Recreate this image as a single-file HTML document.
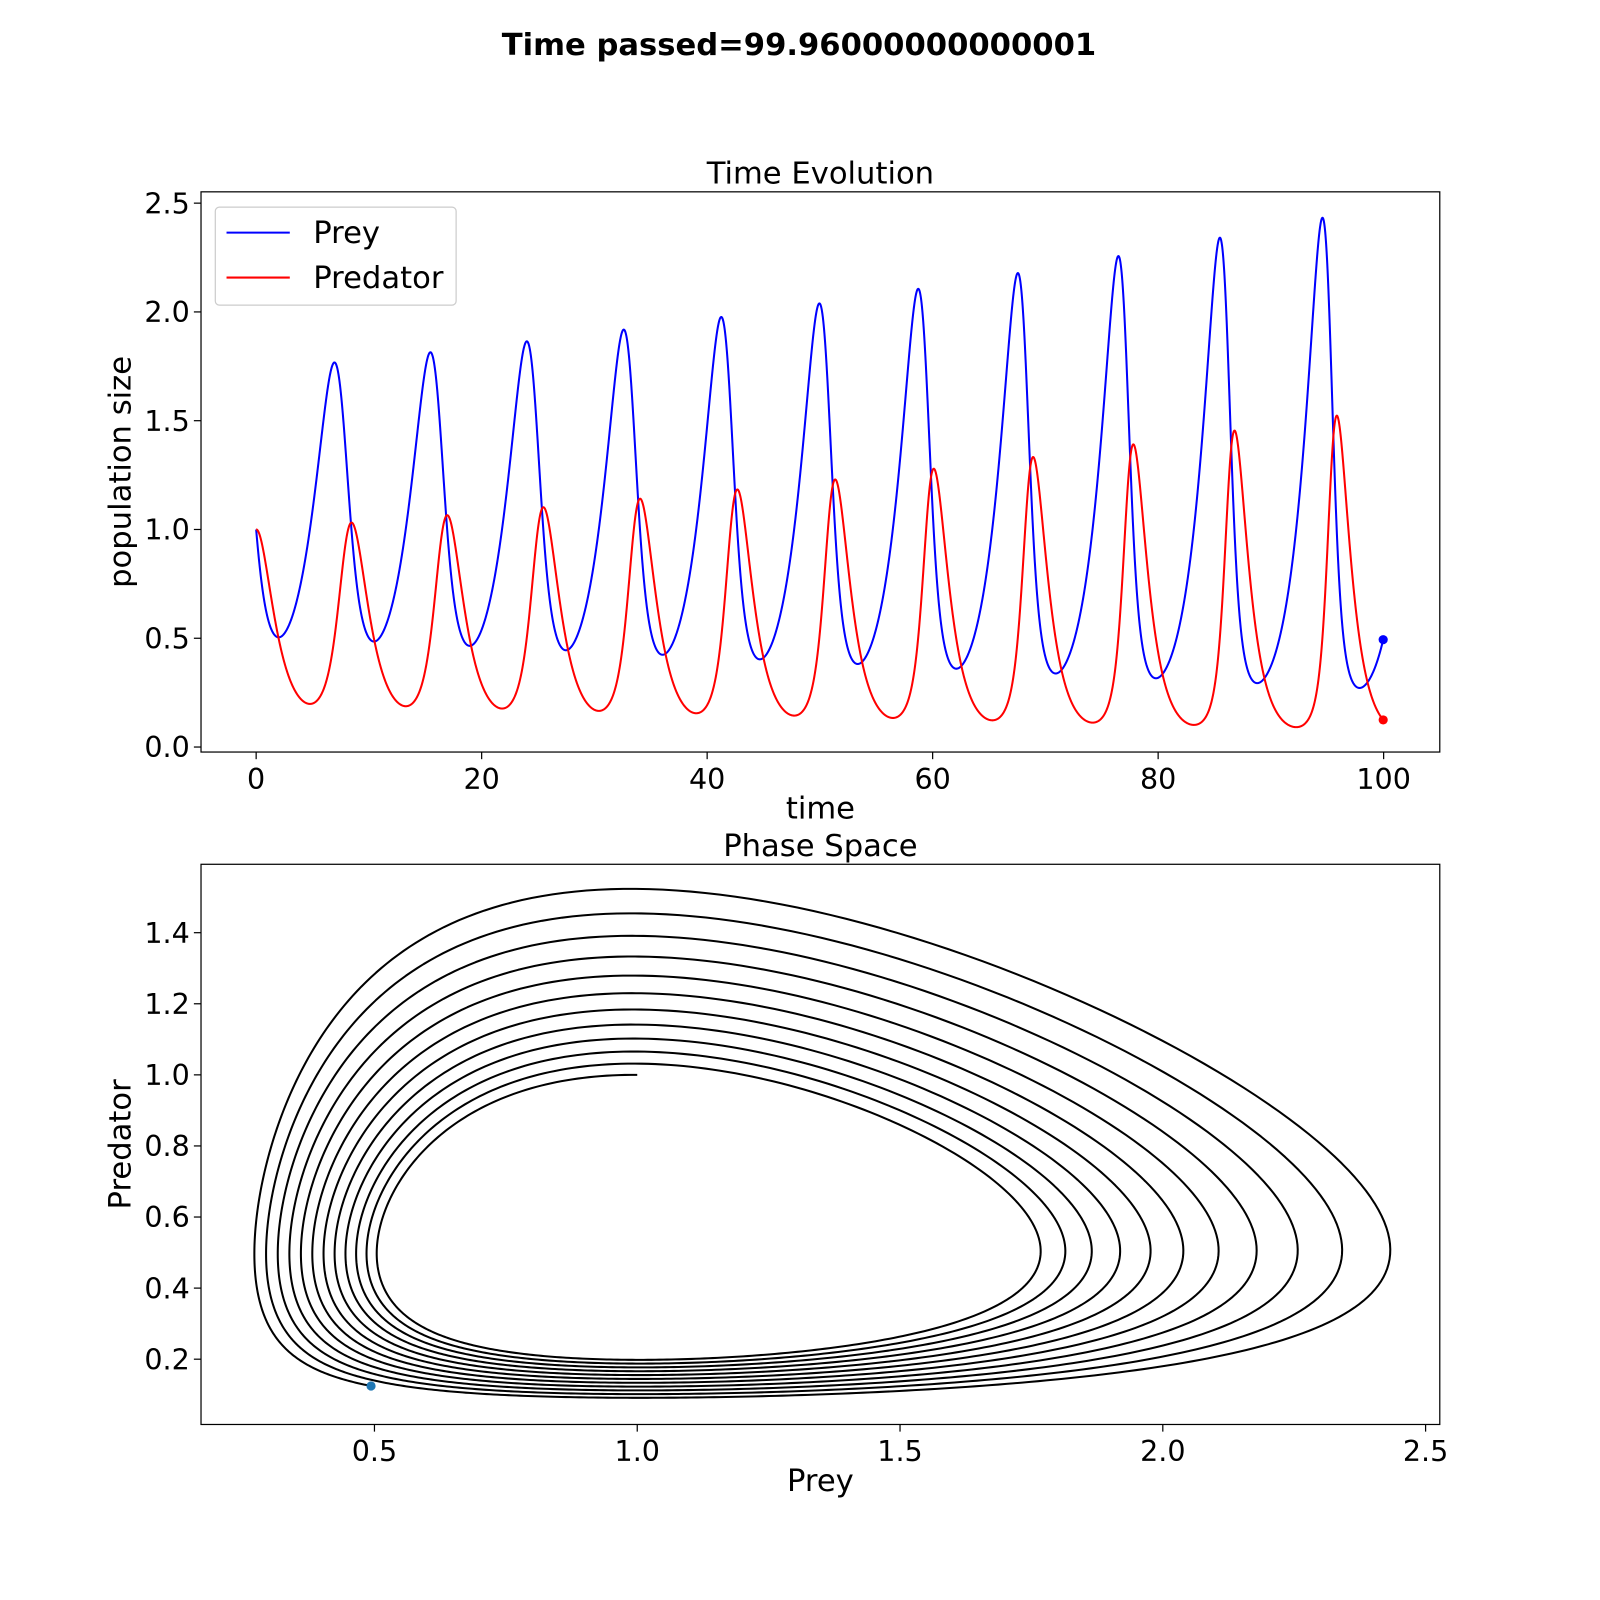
<!DOCTYPE html>
<html><head><meta charset="utf-8"><style>
html,body{margin:0;padding:0;background:#fff;overflow:hidden;width:1600px;height:1600px;}
svg{display:block;}
svg text{font-family:"DejaVu Sans","Liberation Sans",sans-serif;fill:#000;}
</style></head><body>
<svg id="fig" width="1600" height="1600" viewBox="0 0 1600 1600" xmlns="http://www.w3.org/2000/svg">
<rect width="1600" height="1600" fill="#fff"/>
<g transform="scale(1.0204)">
<text x="783" y="54" text-anchor="middle" font-size="30" font-weight="bold">Time passed=99.96000000000001</text>
<text x="804" y="180" text-anchor="middle" font-size="30">Time Evolution</text>
<text x="804" y="839" text-anchor="middle" font-size="30">Phase Space</text>
<g id="top"></g>
<g id="bot"></g>
</g>
</svg>
<script>
// Lotka-Volterra model parameters (data)
const modelParams = [0.6, 1.2, 1.0, 1.0]; // alpha, beta, gamma, delta
const initialState = [1.0, 1.0];      // prey, predator
const timeSettings = [0.02, 99.96];   // dt, end time
const topXTicks = [0, 20, 40, 60, 80, 100];
const topYTicks = [0.0, 0.5, 1.0, 1.5, 2.0, 2.5];
const botXTicks = [0.5, 1.0, 1.5, 2.0, 2.5];
const botYTicks = [0.2, 0.4, 0.6, 0.8, 1.0, 1.2, 1.4];

const NS = "http://www.w3.org/2000/svg";
function mk(parent, tag, attrs) {
  const e = document.createElementNS(NS, tag);
  for (const k in attrs) e.setAttribute(k, attrs[k]);
  parent.appendChild(e); return e;
}
const T = [], X = [], Y = [];
{
  let [a, b, g, d] = modelParams, x = initialState[0], y = initialState[1], t = 0;
  const dt = timeSettings[0], n = Math.round(timeSettings[1] / dt);
  for (let i = 0; i <= n; i++) {
    T.push(t); X.push(x); Y.push(y);
    const dx = a * x - b * x * y, dy = d * x * y - g * y;
    x += dx * dt; y += dy * dt; t += dt;
  }
}
function axes(g, box, xr, yr, xt, yt, fmtX, fmtY, xlabel, ylabel, prefix) {
  const sx = v => box.x0 + (v - xr[0]) / (xr[1] - xr[0]) * (box.x1 - box.x0);
  const sy = v => box.y1 - (v - yr[0]) / (yr[1] - yr[0]) * (box.y1 - box.y0);
  xt.forEach(v => {
    const l = mk(g, 'line', {x1: sx(v), x2: sx(v), y1: box.y1, y2: box.y1 + 7, stroke: '#000', 'stroke-width': 1.2});
    
    
    const t = mk(g, 'text', {x: sx(v), y: box.y1 + 36, 'text-anchor': 'middle', 'font-size': 28});
    t.textContent = fmtX(v);
    
    
  });
  yt.forEach(v => {
    const l = mk(g, 'line', {x1: box.x0 - 7, x2: box.x0, y1: sy(v), y2: sy(v), stroke: '#000', 'stroke-width': 1.2});
    
    
    const t = mk(g, 'text', {x: box.x0 - 11, y: sy(v) + 10, 'text-anchor': 'end', 'font-size': 28});
    t.textContent = fmtY(v);
    
    
  });
  const xl = mk(g, 'text', {x: (box.x0 + box.x1) / 2, y: box.y1 + 65, 'text-anchor': 'middle', 'font-size': 30});
  xl.textContent = xlabel;
  
  
  const cy = (box.y0 + box.y1) / 2;
  const yl = mk(g, 'text', {x: 128, y: cy, 'text-anchor': 'middle', 'font-size': 30, transform: `rotate(-90 128 ${cy})`});
  yl.textContent = ylabel;
  
  
  return [sx, sy];
}
function frame(g, box, prefix) {
  const r = mk(g, 'rect', {x: box.x0, y: box.y0, width: box.x1 - box.x0, height: box.y1 - box.y0, fill: 'none', stroke: '#000', 'stroke-width': 1.2});
  
  
}
function poly(g, xs, ys, sx, sy, color, name) {
  let d = '';
  for (let i = 0; i < xs.length; i++) d += (i ? 'L' : 'M') + sx(xs[i]).toFixed(2) + ' ' + sy(ys[i]).toFixed(2);
  const p = mk(g, 'path', {d: d, fill: 'none', stroke: color, 'stroke-width': 2, 'stroke-linejoin': 'round'});
  
  
}
function dot(g, cx, cy, color, name) {
  const c = mk(g, 'circle', {cx: cx, cy: cy, r: 4.5, fill: color});
  
  
}
const gt = document.getElementById('top');
const tb = {x0: 197, x1: 1411, y0: 188, y1: 737};
const [tsx, tsy] = axes(gt, tb, [-4.89, 104.98], [-0.023, 2.552], topXTicks, topYTicks,
  v => String(v), v => v.toFixed(1), 'time', 'population size', 'top');
poly(gt, T, X, tsx, tsy, '#0000ff', 'prey-line');
poly(gt, T, Y, tsx, tsy, '#ff0000', 'predator-line');
const N = T.length - 1;
dot(gt, tsx(T[N]), tsy(X[N]), '#0000ff', 'prey-current-point');
dot(gt, tsx(T[N]), tsy(Y[N]), '#ff0000', 'predator-current-point');
frame(gt, tb, 'top');
const lg = mk(gt, 'g', {});


mk(lg, 'rect', {x: 211, y: 203, width: 236, height: 96, rx: 4, fill: '#fff', stroke: '#ccc', 'stroke-width': 1.2});
[['Prey', '#0000ff', 228], ['Predator', '#ff0000', 272]].forEach(([lab, col, y]) => {
  const e = mk(lg, 'g', {});
  
  
  mk(e, 'line', {x1: 222, x2: 284, y1: y, y2: y, stroke: col, 'stroke-width': 2});
  const t = mk(e, 'text', {x: 307, y: y + 10, 'font-size': 30});
  t.textContent = lab;
});
const gb = document.getElementById('bot');
const bb = {x0: 197, x1: 1411, y0: 847, y1: 1396};
const [bsx, bsy] = axes(gb, bb, [0.170, 2.527], [0.0163, 1.5925], botXTicks, botYTicks,
  v => v.toFixed(1), v => v.toFixed(1), 'Prey', 'Predator', 'bottom');
poly(gb, X, Y, bsx, bsy, '#000000', 'phase-trajectory');
dot(gb, bsx(X[N]), bsy(Y[N]), '#1f77b4', 'phase-current-point');
frame(gb, bb, 'bottom');
</script>
</body></html>
